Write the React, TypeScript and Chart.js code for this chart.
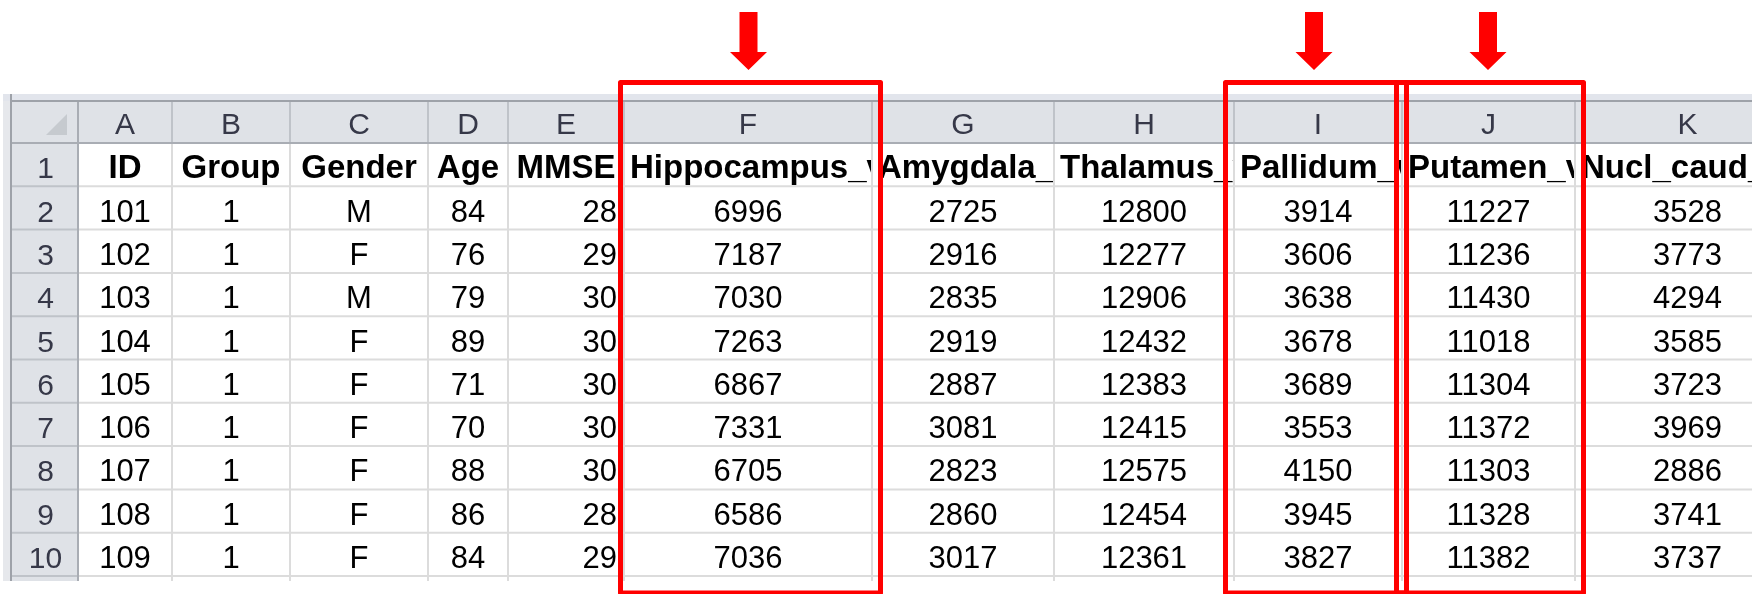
import React, { useEffect, useRef } from 'react';
import { Chart, registerables } from 'chart.js';

Chart.register(...registerables);

// ---------- data ----------
const COLUMN_LETTERS = ['A', 'B', 'C', 'D', 'E', 'F', 'G', 'H', 'I', 'J', 'K'];
const ROW_NUMBERS = ['1', '2', '3', '4', '5', '6', '7', '8', '9', '10'];
const HEADERS = ['ID', 'Group', 'Gender', 'Age', 'MMSE', 'Hippocampus_vol', 'Amygdala_vol', 'Thalamus_vol', 'Pallidum_vol', 'Putamen_vol', 'Nucl_caud_vol'];
const ID = [101, 102, 103, 104, 105, 106, 107, 108, 109];
const GROUP = [1, 1, 1, 1, 1, 1, 1, 1, 1];
const GENDER = ['M', 'F', 'M', 'F', 'F', 'F', 'F', 'F', 'F'];
const AGE = [84, 76, 79, 89, 71, 70, 88, 86, 84];
const MMSE = [28, 29, 30, 30, 30, 30, 30, 28, 29];
const HIPPOCAMPUS = [6996, 7187, 7030, 7263, 6867, 7331, 6705, 6586, 7036];
const AMYGDALA = [2725, 2916, 2835, 2919, 2887, 3081, 2823, 2860, 3017];
const THALAMUS = [12800, 12277, 12906, 12432, 12383, 12415, 12575, 12454, 12361];
const PALLIDUM = [3914, 3606, 3638, 3678, 3689, 3553, 4150, 3945, 3827];
const PUTAMEN = [11227, 11236, 11430, 11018, 11304, 11372, 11303, 11328, 11382];
const NUCL_CAUD = [3528, 3773, 4294, 3585, 3723, 3969, 2886, 3741, 3737];
const HIGHLIGHTED = ['F', 'I', 'J'];

const COLUMNS: (string | number)[][] = [ID, GROUP, GENDER, AGE, MMSE, HIPPOCAMPUS, AMYGDALA, THALAMUS, PALLIDUM, PUTAMEN, NUCL_CAUD];

// ---------- layout ----------
const W = 1752;
const H = 594;
const COL_EDGES = [11, 78, 172, 290, 428, 508, 624, 872, 1054, 1234, 1402, 1575, 1800];
const BODY_ALIGN = ['center', 'center', 'center', 'center', 'right', 'center', 'center', 'center', 'center', 'center', 'center'];
const HEAD_ALIGN = ['center', 'center', 'center', 'center', 'center', 'left', 'left', 'left', 'left', 'left', 'left'];
const BAND_TOP = 94;
const HEADER_TOP = 101;
const HEADER_BOTTOM = 143;
const ROW_H = 43.3;
const SHEET_BOTTOM = 581;
const FONT = "'Liberation Sans', Arial, sans-serif";

const sheetPlugin = {
  id: 'sheet',
  afterDraw(chart: any) {
    const ctx: CanvasRenderingContext2D = chart.ctx;
    const xs = chart.scales.x;
    const ys = chart.scales.y;
    const px = (v: number) => xs.getPixelForValue(v);
    const py = (v: number) => ys.getPixelForValue(v);
    const rowTop = (r: number) => HEADER_BOTTOM + (r - 1) * ROW_H; // r = 1..10

    ctx.save();
    // background
    ctx.fillStyle = '#ffffff';
    ctx.fillRect(px(0), py(0), px(W) - px(0), py(H) - py(0));

    // left strip
    ctx.fillStyle = '#e6e8ec';
    ctx.fillRect(px(3), py(BAND_TOP), px(10) - px(3), py(SHEET_BOTTOM) - py(BAND_TOP));
    // top band
    ctx.fillStyle = '#e2e5ec';
    ctx.fillRect(px(3), py(BAND_TOP), px(W) - px(3), py(HEADER_TOP) - py(BAND_TOP));

    // header backgrounds
    ctx.fillStyle = '#dfe2e7';
    ctx.fillRect(px(COL_EDGES[0]), py(HEADER_TOP), px(W) - px(COL_EDGES[0]), py(HEADER_BOTTOM) - py(HEADER_TOP));
    ctx.fillRect(px(COL_EDGES[0]), py(HEADER_TOP), px(COL_EDGES[1]) - px(COL_EDGES[0]), py(SHEET_BOTTOM) - py(HEADER_TOP));

    // gridlines in body
    ctx.strokeStyle = '#dcdcdc';
    ctx.lineWidth = 2;
    for (let c = 2; c < COL_EDGES.length - 1; c++) {
      ctx.beginPath();
      ctx.moveTo(px(COL_EDGES[c]), py(HEADER_BOTTOM));
      ctx.lineTo(px(COL_EDGES[c]), py(SHEET_BOTTOM));
      ctx.stroke();
    }
    for (let r = 2; r <= ROW_NUMBERS.length + 1; r++) {
      ctx.beginPath();
      ctx.moveTo(px(COL_EDGES[1]), py(rowTop(r)));
      ctx.lineTo(px(W), py(rowTop(r)));
      ctx.stroke();
    }
    // header separators
    ctx.strokeStyle = '#bfc3c9';
    for (let c = 2; c < COL_EDGES.length - 1; c++) {
      ctx.beginPath();
      ctx.moveTo(px(COL_EDGES[c]), py(HEADER_TOP));
      ctx.lineTo(px(COL_EDGES[c]), py(HEADER_BOTTOM));
      ctx.stroke();
    }
    for (let r = 2; r <= ROW_NUMBERS.length + 1; r++) {
      ctx.beginPath();
      ctx.moveTo(px(COL_EDGES[0]), py(rowTop(r)));
      ctx.lineTo(px(COL_EDGES[1]), py(rowTop(r)));
      ctx.stroke();
    }
    // main frame lines
    ctx.strokeStyle = '#a9adb4';
    ctx.beginPath();
    ctx.moveTo(px(COL_EDGES[0]), py(HEADER_BOTTOM));
    ctx.lineTo(px(W), py(HEADER_BOTTOM));
    ctx.moveTo(px(COL_EDGES[1]), py(HEADER_TOP));
    ctx.lineTo(px(COL_EDGES[1]), py(SHEET_BOTTOM));
    ctx.stroke();
    ctx.strokeStyle = '#9ea2a9';
    ctx.beginPath();
    ctx.moveTo(px(COL_EDGES[0]), py(HEADER_TOP));
    ctx.lineTo(px(W), py(HEADER_TOP));
    ctx.moveTo(px(COL_EDGES[0]), py(BAND_TOP));
    ctx.lineTo(px(COL_EDGES[0]), py(SHEET_BOTTOM));
    ctx.stroke();

    // corner triangle
    ctx.fillStyle = '#c6cacf';
    ctx.beginPath();
    ctx.moveTo(px(67), py(114));
    ctx.lineTo(px(67), py(135));
    ctx.lineTo(px(46), py(135));
    ctx.closePath();
    ctx.fill();

    // column letters
    ctx.fillStyle = '#363848';
    ctx.font = `30px ${FONT}`;
    ctx.textAlign = 'center';
    ctx.textBaseline = 'alphabetic';
    for (let c = 0; c < COLUMN_LETTERS.length; c++) {
      const l = COL_EDGES[c + 1], r = COL_EDGES[c + 2];
      ctx.fillText(COLUMN_LETTERS[c], px((l + r) / 2), py(HEADER_BOTTOM - 9));
    }
    // row numbers
    for (let i = 0; i < ROW_NUMBERS.length; i++) {
      ctx.fillText(ROW_NUMBERS[i], px((COL_EDGES[0] + COL_EDGES[1]) / 2 + 1), py(rowTop(i + 2) - 8));
    }

    const drawCell = (text: string, c: number, r: number, align: string, font: string) => {
      const l = COL_EDGES[c + 1], rr = COL_EDGES[c + 2];
      const top = rowTop(r), bottom = rowTop(r + 1);
      ctx.save();
      ctx.beginPath();
      ctx.rect(px(l + 1), py(top), px(rr - 1) - px(l + 1), py(bottom) - py(top));
      ctx.clip();
      ctx.font = font;
      ctx.fillStyle = '#000000';
      let x = (l + rr) / 2;
      if (align === 'left') { ctx.textAlign = 'left'; x = l + 6; }
      else if (align === 'right') { ctx.textAlign = 'right'; x = rr - 7; }
      else ctx.textAlign = 'center';
      ctx.fillText(text, px(x), py(bottom - 8));
      ctx.restore();
    };

    // header row
    for (let c = 0; c < HEADERS.length; c++) drawCell(HEADERS[c], c, 1, HEAD_ALIGN[c], `bold 33px ${FONT}`);
    // body rows
    for (let c = 0; c < COLUMNS.length; c++) {
      const col = COLUMNS[c];
      for (let i = 0; i < col.length; i++) drawCell(String(col[i]), c, i + 2, BODY_ALIGN[c], `31px ${FONT}`);
    }

    // red highlight boxes and arrows
    ctx.strokeStyle = '#ff0000';
    ctx.fillStyle = '#ff0000';
    ctx.lineWidth = 5;
    ctx.lineJoin = 'round';
    const BOX_PAD = [6, 11, 8];
    HIGHLIGHTED.forEach((letter, k) => {
      const c = COLUMN_LETTERS.indexOf(letter);
      const l = COL_EDGES[c + 1] - BOX_PAD[k] + 2.5;
      const r = COL_EDGES[c + 2] + 8.5 - (k === 1 ? 4 : 0);
      ctx.beginPath();
      ctx.rect(px(l), py(82.5), px(r) - px(l), py(593) - py(82.5));
      ctx.stroke();
      const cx = (l + r) / 2 - 2;
      ctx.beginPath();
      ctx.moveTo(px(cx - 9), py(12));
      ctx.lineTo(px(cx + 9), py(12));
      ctx.lineTo(px(cx + 9), py(52));
      ctx.lineTo(px(cx + 18.5), py(52));
      ctx.lineTo(px(cx), py(70));
      ctx.lineTo(px(cx - 18.5), py(52));
      ctx.lineTo(px(cx - 9), py(52));
      ctx.closePath();
      ctx.fill();
    });
    ctx.restore();
  },
};

export default function App() {
  const ref = useRef<HTMLCanvasElement>(null);
  useEffect(() => {
    if (!ref.current) return;
    const chart = new Chart(ref.current, {
      type: 'scatter',
      data: { datasets: [] },
      options: {
        animation: false,
        responsive: false,
        maintainAspectRatio: false,
        devicePixelRatio: 1,
        events: [],
        layout: { padding: 0 },
        plugins: { legend: { display: false }, tooltip: { enabled: false } },
        scales: {
          x: { type: 'linear', display: false, min: 0, max: W },
          y: { type: 'linear', display: false, min: 0, max: H, reverse: true },
        },
      },
      plugins: [sheetPlugin],
    } as any);
    return () => chart.destroy();
  }, []);
  return (
    <div style={{ position: 'fixed', left: 0, top: 0, width: W, height: H, background: '#fff' }}>
      <canvas ref={ref} width={W} height={H} style={{ width: W, height: H, display: 'block' }} />
    </div>
  );
}
